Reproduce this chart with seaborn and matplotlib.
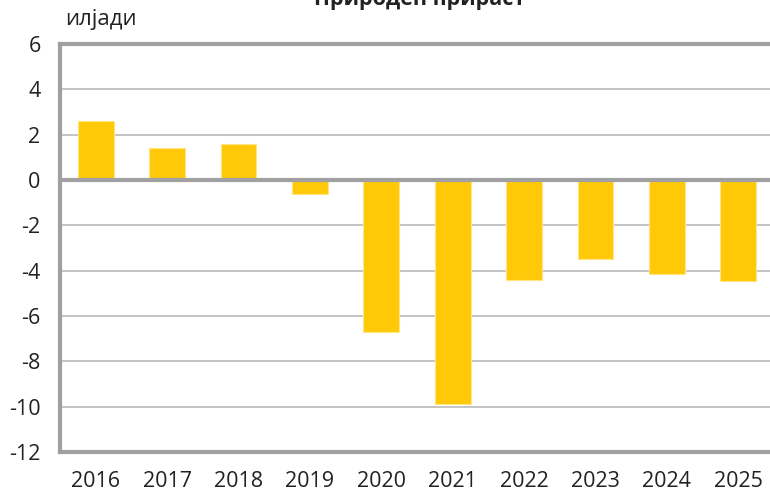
import matplotlib.pyplot as plt
import seaborn as sns

# natural increase, thousands
years = ["2016", "2017", "2018", "2019", "2020", "2021", "2022", "2023", "2024", "2025"]
values = [2.6, 1.42, 1.6, -0.6, -6.72, -9.88, -4.4, -3.48, -4.15, -4.45]
y_ticks = [6, 4, 2, 0, -2, -4, -6, -8, -10, -12]

sns.set_style("white")
plt.rcParams["font.family"] = ["Open Sans", "DejaVu Sans"]

fig = plt.figure(figsize=(7.7, 4.91), dpi=100)
ax = fig.add_axes([60 / 770, 39 / 491, 714 / 770, 408 / 491])

sns.barplot(x=years, y=values, color="#FFC90A", width=0.5, saturation=1,
            edgecolor="#FFE680", linewidth=0.8, ax=ax, zorder=2)

ax.set_ylim(-12, 6)
ax.set_xlim(-0.5, len(years) - 0.5)
ax.set_yticks(y_ticks)
ax.set_yticklabels([str(t) for t in y_ticks])
ax.yaxis.grid(True, color="#BFBFBF", linewidth=1.3, zorder=0)
ax.axhline(0, color="#A0A0A0", linewidth=3, zorder=3)
ax.set_xlabel("")
ax.set_ylabel("")
ax.tick_params(axis="both", length=0, labelsize=15.5, colors="#222222")
ax.tick_params(axis="x", pad=14)
ax.tick_params(axis="y", pad=14)

for side in ["left", "top", "bottom", "right"]:
    ax.spines[side].set_color("#A0A0A0")
    ax.spines[side].set_linewidth(3)

fig.text(420 / 770, 1.0, "Природен прираст", ha="center", va="center",
         fontsize=15.5, fontweight="bold", color="#222222")
fig.text(65 / 770, 1 - 20 / 491, "илјади", ha="left", va="center",
         fontsize=16, color="#222222")

fig.savefig("out.png", dpi=100)
